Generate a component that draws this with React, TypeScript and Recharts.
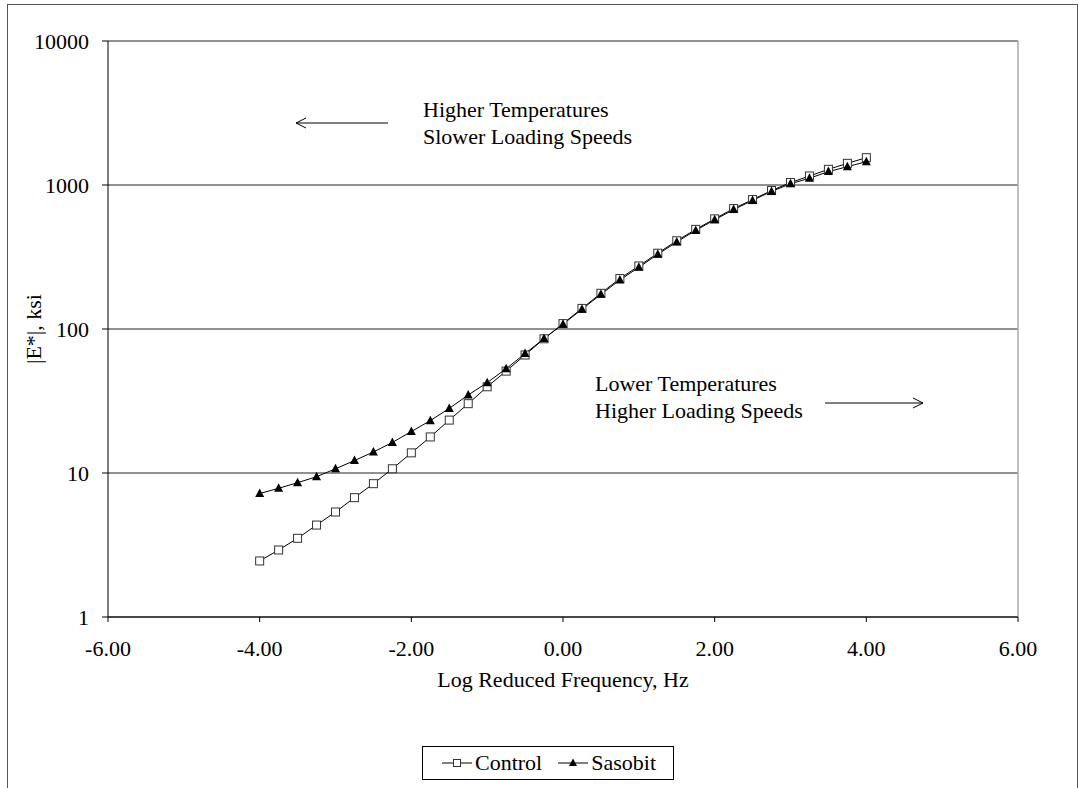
import { Line, LineChart, XAxis, YAxis, CartesianGrid, Legend, ReferenceLine } from 'recharts';

const freq = [
  -4, -3.75, -3.5, -3.25, -3, -2.75, -2.5, -2.25, -2, -1.75, -1.5, -1.25, -1,
  -0.75, -0.5, -0.25, 0, 0.25, 0.5, 0.75, 1, 1.25, 1.5, 1.75, 2, 2.25, 2.5,
  2.75, 3, 3.25, 3.5, 3.75, 4,
];

const control = [
  2.45, 2.92, 3.52, 4.35, 5.36, 6.74, 8.43, 10.7, 13.8, 17.8, 23.3, 30.3, 39.7,
  51, 66, 85.5, 109, 139, 177, 224, 274, 336, 410, 492, 582, 686, 792, 915,
  1040, 1155, 1285, 1414, 1548,
];

const sasobit = [
  7.2, 7.83, 8.57, 9.42, 10.7, 12.2, 14.0, 16.3, 19.4, 23.1, 28.1, 34.8, 42.4,
  53, 67.5, 86, 108, 137, 174, 219, 268, 330, 402, 484, 573, 675, 782, 902,
  1020, 1114, 1239, 1340, 1453,
];

const xTicks = [-6, -4, -2, 0, 2, 4, 6];
const yTicks = [1, 10, 100, 1000, 10000];

const data = freq.map((f, i) => ({ f, control: control[i], sasobit: sasobit[i] }));

const FONT = '"Liberation Serif", "Times New Roman", serif';

const SquareDot = (props: any) => {
  const { cx, cy } = props;
  if (cx == null || cy == null) return null;
  return <rect x={cx - 4} y={cy - 4} width={8} height={8} fill="#fff" stroke="#333" strokeWidth={1} />;
};

const TriangleDot = (props: any) => {
  const { cx, cy } = props;
  if (cx == null || cy == null) return null;
  return <polygon points={`${cx},${cy - 5} ${cx + 4.5},${cy + 3.5} ${cx - 4.5},${cy + 3.5}`} fill="#000" />;
};

const renderLegend = (props: any) => {
  const { payload = [] } = props;
  return (
    <div style={{ display: 'flex', alignItems: 'center', height: '100%', paddingLeft: 19 }}>
      {payload.map((entry: any) => (
        <div key={entry.value} style={{ display: 'flex', alignItems: 'center', marginRight: 16 }}>
          <svg width={30} height={14}>
            <line x1={0} y1={7} x2={30} y2={7} stroke="#000" strokeWidth={1} />
            {entry.dataKey === 'control' ? (
              <rect x={11.5} y={3.5} width={7} height={7} fill="#fff" stroke="#333" />
            ) : (
              <polygon points="15,2.5 19,10 11,10" fill="#000" />
            )}
          </svg>
          <span style={{ marginLeft: 3, lineHeight: 1 }}>{entry.value}</span>
        </div>
      ))}
    </div>
  );
};

const YLabel = (props: any) => {
  const { viewBox } = props;
  const x = 36;
  const y = viewBox.y + viewBox.height / 2;
  return (
    <text x={x} y={y} transform={`rotate(-90 ${x} ${y})`} textAnchor="middle" dominantBaseline="middle"
      fontFamily={FONT} fontSize={22} fill="#000">
      |E*|, ksi
    </text>
  );
};

const App = () => {
  return (
    <div style={{ position: 'absolute', top: 0, left: 0, width: 1079, height: 788, background: '#fff', fontFamily: FONT }}>
      <div style={{ position: 'absolute', left: 7, top: 4, width: 1071, height: 800, border: '1px solid #555', boxSizing: 'border-box' }} />
      <LineChart width={1079} height={788} data={data} margin={{ top: 41, right: 61, bottom: 91, left: 8 }}
        style={{ position: 'absolute', top: 0, left: 0 }}>
        <CartesianGrid horizontal vertical={false} stroke="#222" strokeDasharray="" />
        <XAxis dataKey="f" type="number" domain={[-6, 6]} ticks={xTicks} height={80}
          tickFormatter={(v: number) => v.toFixed(2)} tickSize={5} tickMargin={18}
          axisLine={{ stroke: '#000' }} tickLine={{ stroke: '#000' }}
          tick={{ fill: '#000', fontSize: 22, fontFamily: FONT }}
          label={{ value: 'Log Reduced Frequency, Hz', position: 'insideBottom', offset: 10, fill: '#000', fontSize: 22, fontFamily: FONT }} />
        <YAxis scale="log" domain={[1, 10000]} ticks={yTicks} allowDataOverflow width={100}
          tickSize={6} tickMargin={13} axisLine={{ stroke: '#000' }} tickLine={{ stroke: '#000' }}
          tick={{ fill: '#000', fontSize: 22, fontFamily: FONT }}
          label={<YLabel />} />
        <ReferenceLine x={6} stroke="#aaa" strokeWidth={1.5} />
        <Line dataKey="control" name="Control" stroke="#000" strokeWidth={1} dot={<SquareDot />} activeDot={false} isAnimationActive={false} />
        <Line dataKey="sasobit" name="Sasobit" stroke="#000" strokeWidth={1} dot={<TriangleDot />} activeDot={false} isAnimationActive={false} />
        <Legend layout="horizontal" verticalAlign="middle" align="center" content={renderLegend}
          wrapperStyle={{ position: 'absolute', left: 422, top: 746, width: 252, height: 34, border: '1px solid #000', boxSizing: 'border-box', fontFamily: FONT, fontSize: 22, background: '#fff' }} />
      </LineChart>
      <svg width={1079} height={788} style={{ position: 'absolute', top: 0, left: 0, pointerEvents: 'none' }}
        fontFamily={FONT} fontSize={22} fill="#000">
        <text x={423} y={117}>Higher Temperatures</text>
        <text x={423} y={144}>Slower Loading Speeds</text>
        <line x1={388} y1={123} x2={296} y2={123} stroke="#000" />
        <polyline points="306,118 296,123 306,128" fill="none" stroke="#000" />
        <text x={595} y={391}>Lower Temperatures</text>
        <text x={595} y={418}>Higher Loading Speeds</text>
        <line x1={825} y1={403} x2={923} y2={403} stroke="#000" />
        <polyline points="913,398 923,403 913,408" fill="none" stroke="#000" />
      </svg>
    </div>
  );
};

export default App;
